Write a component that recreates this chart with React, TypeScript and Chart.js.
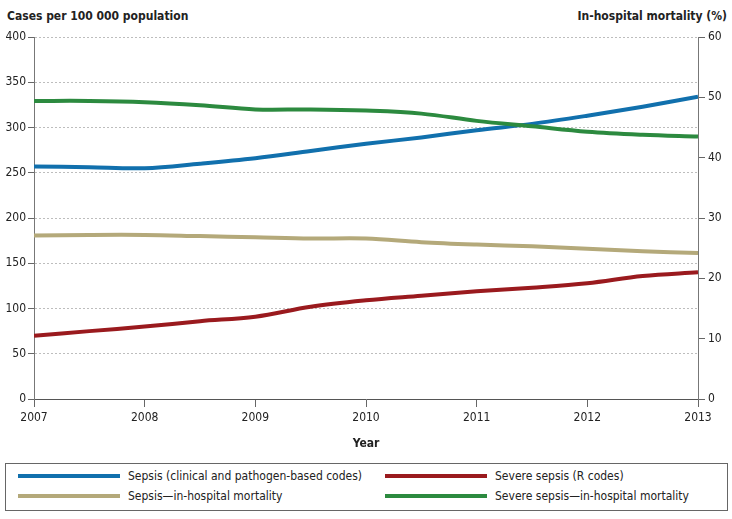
import React, { useEffect, useRef } from "react";
import { Chart, registerables } from "chart.js";

Chart.register(...registerables);

const years = [2007, 2007.5, 2008, 2008.5, 2009, 2009.5, 2010, 2010.5, 2011, 2011.5, 2012, 2012.5, 2013];
const sepsisCases = [257, 256, 255, 260, 266, 274, 282, 289, 297, 304, 313, 323, 334];
const severeCases = [70, 75, 80, 86, 91, 102, 109, 114, 119, 123, 128, 136, 140];
const sepsisMortality = [27.1, 27.2, 27.2, 27.0, 26.8, 26.6, 26.6, 26.0, 25.6, 25.3, 24.9, 24.5, 24.2];
const severeMortality = [49.4, 49.4, 49.2, 48.7, 48.0, 48.0, 47.8, 47.3, 46.1, 45.2, 44.3, 43.8, 43.5];

const seriesLabels = [
  "Sepsis (clinical and pathogen-based codes)",
  "Severe sepsis (R codes)",
  "Sepsis\u2014in-hospital mortality",
  "Severe sepsis\u2014in-hospital mortality",
];
const seriesColors = ["#1170ad", "#9a1a1e", "#b4a97a", "#2c8a3f"];

const FONT = "'Liberation Sans Narrow', 'DejaVu Sans Condensed', 'Arial Narrow', Arial, sans-serif";

export default function App() {
  const ref = useRef<HTMLCanvasElement | null>(null);

  useEffect(() => {
    document.body.style.margin = "0";
    const ctx = ref.current!;
    const pts = (vals: number[]) => vals.map((v, i) => ({ x: years[i], y: v }));
    const chart = new Chart(ctx, {
      type: "line",
      data: {
        datasets: [
          { label: seriesLabels[3], data: pts(severeMortality), yAxisID: "y1", borderColor: seriesColors[3] },
          { label: seriesLabels[2], data: pts(sepsisMortality), yAxisID: "y1", borderColor: seriesColors[2] },
          { label: seriesLabels[1], data: pts(severeCases), yAxisID: "y", borderColor: seriesColors[1] },
          { label: seriesLabels[0], data: pts(sepsisCases), yAxisID: "y", borderColor: seriesColors[0] },
        ].map((d) => ({ ...d, borderWidth: 4, pointRadius: 0, tension: 0.35, fill: false })),
      },
      options: {
        animation: false,
        responsive: false,
        maintainAspectRatio: false,
        layout: { padding: { top: 37, left: 0, right: 0, bottom: 0 } },
        plugins: { legend: { display: false }, tooltip: { enabled: false } },
        scales: {
          x: {
            type: "linear",
            min: 2007,
            max: 2013,
            ticks: { stepSize: 1, color: "#222", font: { family: FONT, size: 12 }, padding: 4, callback: (v: any) => String(v) },
            grid: { drawOnChartArea: false, tickLength: 8, tickColor: "#666", lineWidth: 1 },
            border: { color: "#555", width: 1 },
            title: { display: true, text: "Year", color: "#222", font: { family: FONT, size: 12, weight: "bold" }, padding: { top: 0 } },
            afterFit: (s: any) => { s.height = 56; },
          },
          y: {
            position: "left",
            min: 0,
            max: 400,
            ticks: { stepSize: 50, color: "#222", font: { family: FONT, size: 12 }, padding: 2 },
            grid: { color: "#bdbdbd", tickColor: "#666", tickLength: 6, lineWidth: 1, tickBorderDash: [] },
            border: { color: "#777", width: 1, dash: [2, 2] },
            afterFit: (s: any) => { s.width = 34; },
          },
          y1: {
            position: "right",
            min: 0,
            max: 60,
            ticks: { stepSize: 10, color: "#222", font: { family: FONT, size: 12 }, padding: 3 },
            grid: { drawOnChartArea: false, tickColor: "#666", tickLength: 7 },
            border: { color: "#777", width: 1 },
            afterFit: (s: any) => { s.width = 34; },
          },
        },
      } as any,
    });
    return () => chart.destroy();
  }, []);

  const legendItem = (i: number, left: number, top: number) => (
    <div key={i} style={{ position: "absolute", left, top, display: "flex", alignItems: "center" }}>
      <div style={{ width: 102, height: 4, background: seriesColors[i] }} />
      <span style={{ marginLeft: 8, fontSize: 12, color: "#222", fontFamily: FONT, whiteSpace: "nowrap" }}>{seriesLabels[i]}</span>
    </div>
  );

  return (
    <div style={{ position: "absolute", left: 0, top: 0, width: 732, height: 519, background: "#fff", fontFamily: FONT }}>
      <div style={{ position: "absolute", left: 7, top: 9, fontSize: 12, fontWeight: "bold", color: "#222" }}>
        Cases per 100 000 population
      </div>
      <div style={{ position: "absolute", right: 5, top: 9, fontSize: 12, fontWeight: "bold", color: "#222" }}>
        In-hospital mortality (%)
      </div>
      <canvas ref={ref} width={732} height={455} style={{ position: "absolute", left: 0, top: 0 }} />
      <div style={{ position: "absolute", left: 5, top: 463, width: 721, height: 46, border: "1px solid #666" }}>
        {legendItem(0, 12, 5)}
        {legendItem(1, 379, 5)}
        {legendItem(2, 12, 25)}
        {legendItem(3, 379, 25)}
      </div>
    </div>
  );
}
